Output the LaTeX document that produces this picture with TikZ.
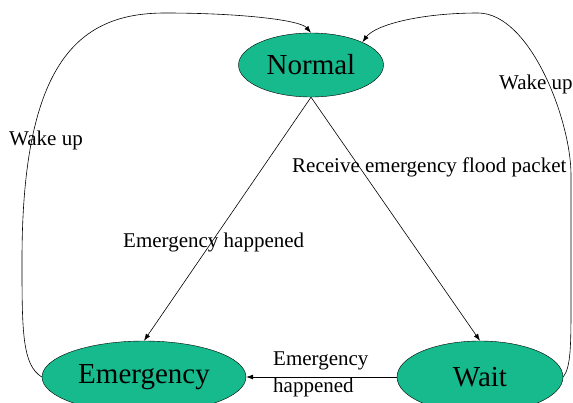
\documentclass[tikz,border=0pt]{standalone}
\usepackage{fontspec}
\setmainfont{Liberation Serif}
\usepackage{tikz}
\usetikzlibrary{arrows.meta,shapes.geometric}
\definecolor{stategreen}{RGB}{22,186,140}

\begin{document}
\begin{tikzpicture}[
  x=1pt,y=-1pt,
  state/.style={ellipse,draw,fill=stategreen,inner sep=0pt,
    font=\fontsize{29}{34}\selectfont},
  lbl/.style={inner sep=0pt,font=\fontsize{21}{27}\selectfont},
  arr/.style={-{Latex[length=7pt,width=5pt]},line width=0.6pt}
]
\useasboundingbox (0,0) rectangle (573,402);
\node[state,minimum width=145pt,minimum height=64pt] (normal) at (311,65) {Normal};
\node[state,minimum width=204pt,minimum height=72pt] (emerg) at (144,377) {Emergency};
\node[state,minimum width=166pt,minimum height=72pt] (wait) at (480,377) {Wait};
\draw[arr] (normal.south)--(emerg.north);
\draw[arr] (normal.south)--(wait.north);
\draw[arr] (wait.west)--(emerg.east);
\draw[arr] (emerg.west) .. controls (22,365) and (22,330) .. (22,260)
 .. controls (22,60) and (80,13) .. (165,13)
 .. controls (240,13) and (300,20) .. (normal.north);
\draw[arr] (wait.east) .. controls (571,367) and (571,345) .. (571,300)
 -- (571,175) .. controls (571,120) and (530,13) .. (478,13)
 .. controls (420,13) and (375,25) .. (normal.north east);
\node[lbl] (wakeL) at (46,140) {Wake up};
\node[lbl,anchor=west] (wakeR) at (499,84) {Wake up};
\node[lbl,anchor=west] (recv) at (292,167) {Receive emergency flood packet};
\node[lbl,anchor=west] (happA) at (123,242) {Emergency happened};
\node[lbl,anchor=west,align=left] (happB) at (273,374) {Emergency\\happened};
\end{tikzpicture}
\end{document}
